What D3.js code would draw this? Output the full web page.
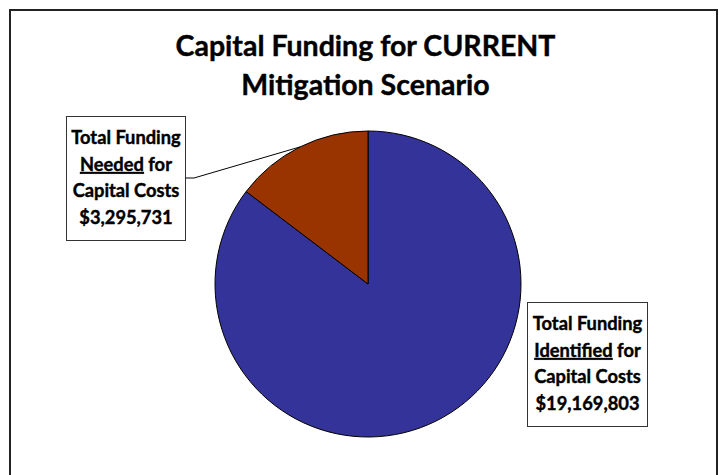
<!DOCTYPE html>
<html>
<head>
<meta charset="utf-8">
<script src="https://cdn.jsdelivr.net/npm/d3@7"></script>
<style>
  body { margin: 0; background: #fff; }
  text { font-family: "Lato", "Open Sans", sans-serif; font-weight: bold; fill: #000; stroke: #000; stroke-width: 0.4px; }
</style>
</head>
<body>
<svg id="chart" width="719" height="475"></svg>
<script>
// chart data
var titleLines = ["Capital Funding for CURRENT", "Mitigation Scenario"];
var categories = ["Identified", "Needed"];
var values = [19169803, 3295731];
var colors = ["#333399", "#993300"];

var width = 719, height = 475;
var cx = 368, cy = 284, radius = 153;

var svg = d3.select("#chart");

// outer frame (bottom edge runs off the picture)
svg.append("rect")
  .attr("x", 10).attr("y", 10)
  .attr("width", 707).attr("height", 480)
  .attr("fill", "none")
  .attr("stroke", "#222")
  .attr("stroke-width", 2);

// title
svg.selectAll(".title")
  .data(titleLines)
  .enter()
  .append("text")
  .attr("class", "title")
  .attr("x", 365.5)
  .attr("y", function (d, i) { return 56 + i * 39; })
  .attr("text-anchor", "middle")
  .style("font-size", "28.5px")
  .text(function (d) { return d; });

var pie = d3.pie().sort(null).value(function (d) { return d; });
var arcs = pie(values);
var arc = d3.arc().innerRadius(0).outerRadius(radius);

var g = svg.append("g")
  .attr("transform", "translate(" + cx + "," + cy + ")");

g.selectAll(".slice")
  .data(arcs)
  .enter()
  .append("path")
  .attr("class", "slice")
  .attr("d", arc)
  .attr("fill", function (d, i) { return colors[i]; })
  .attr("stroke", "#000")
  .style("stroke-width", "1px");

// label boxes
var fmt = d3.format("$,");
var boxes = [
  { x: 527, y: 302, w: 120, h: 124, idx: 0 },
  { x: 66, y: 116, w: 119, h: 124, idx: 1 }
];

boxes.forEach(function (b) {
  svg.append("rect")
    .attr("x", b.x + 0.5).attr("y", b.y + 0.5)
    .attr("width", b.w).attr("height", b.h)
    .attr("fill", "#fff")
    .attr("stroke", "#333")
    .style("stroke-width", "1px");

  var tx = b.x + b.w / 2 + 0.5;
  var t = svg.append("text")
    .attr("text-anchor", "middle")
    .style("font-size", "18.3px");

  t.append("tspan").attr("x", tx).attr("y", b.y + 28).text("Total Funding");
  var l2 = t.append("tspan").attr("x", tx).attr("y", b.y + 55);
  l2.append("tspan").style("text-decoration", "underline").text(categories[b.idx]);
  l2.append("tspan").text(" for");
  t.append("tspan").attr("x", tx).attr("y", b.y + 81).text("Capital Costs");
  t.append("tspan").attr("x", tx).attr("y", b.y + 108).text(fmt(values[b.idx]));
});

// leader line from "Needed" box to its slice
var needed = arcs[1];
var mid = (needed.startAngle + needed.endAngle) / 2;
var ex = cx + Math.sin(mid) * radius;
var ey = cy - Math.cos(mid) * radius;
svg.append("polyline")
  .attr("points", [[185.5, 178], [194, 178], [ex, ey]].map(function (p) { return p.join(","); }).join(" "))
  .attr("fill", "none")
  .attr("stroke", "#000")
  .style("stroke-width", "1px");
</script>
</body>
</html>
